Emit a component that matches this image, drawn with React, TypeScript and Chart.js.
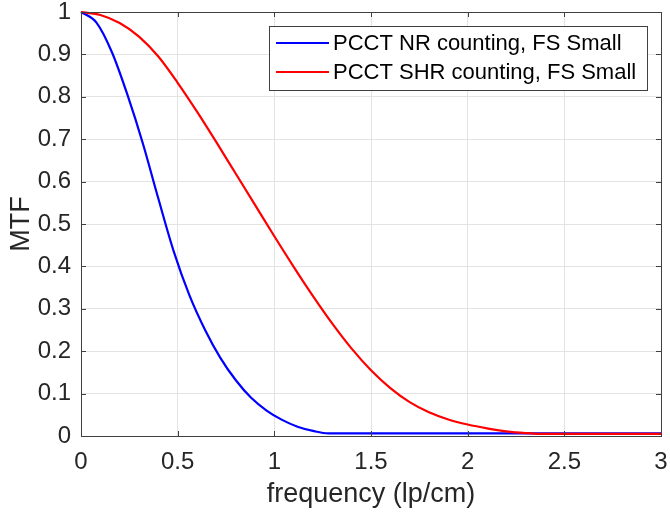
import React, { useEffect, useRef } from "react";
import { Chart, registerables } from "chart.js";

Chart.register(...registerables);

const nrFreq = [0, 0.08, 0.16, 0.24, 0.32, 0.4, 0.48, 0.56, 0.64, 0.72, 0.8, 0.88, 0.96, 1.04, 1.12, 1.2, 1.28, 3.0];
const nrMTF = [1.0, 0.975, 0.905, 0.805, 0.69, 0.56, 0.435, 0.333, 0.252, 0.185, 0.132, 0.09, 0.06, 0.038, 0.022, 0.012, 0.006, 0.006];

const shrFreq = [0, 0.1, 0.2, 0.3, 0.4, 0.5, 0.6, 0.7, 0.8, 0.9, 1.0, 1.1, 1.2, 1.3, 1.4, 1.5, 1.6, 1.7, 1.8, 1.9, 2.0, 2.1, 2.2, 2.3, 2.4, 3.0];
const shrMTF = [1.0, 0.993, 0.974, 0.942, 0.895, 0.833, 0.765, 0.693, 0.619, 0.545, 0.471, 0.399, 0.33, 0.265, 0.206, 0.155, 0.113, 0.08, 0.056, 0.039, 0.027, 0.018, 0.011, 0.007, 0.005, 0.005];

const seriesLabels = ["PCCT NR counting, FS Small", "PCCT SHR counting, FS Small"];
const seriesColors = ["#0000ff", "#ff0000"];
const xTitle = "frequency (lp/cm)";
const yTitle = "MTF";

const FONT = "'Liberation Sans', Arial, Helvetica, sans-serif";
const AXIS_COLOR = "#404040";
const TEXT_COLOR = "#262626";

const framePlugin = {
  id: "matlabFrame",
  afterDatasetsDraw(chart: any) {
    const { ctx, chartArea, scales } = chart;
    const { left, right, top, bottom } = chartArea;
    ctx.save();
    ctx.strokeStyle = AXIS_COLOR;
    ctx.lineWidth = 1;
    ctx.strokeRect(Math.round(left) + 0.5, Math.round(top) + 0.5, Math.round(right - left), Math.round(bottom - top));
    const tl = 5;
    ctx.beginPath();
    scales.x.ticks.forEach((t: any) => {
      const px = Math.round(scales.x.getPixelForValue(t.value)) + 0.5;
      ctx.moveTo(px, bottom);
      ctx.lineTo(px, bottom - tl);
      ctx.moveTo(px, top);
      ctx.lineTo(px, top + tl);
    });
    scales.y.ticks.forEach((t: any) => {
      const py = Math.round(scales.y.getPixelForValue(t.value)) + 0.5;
      ctx.moveTo(left, py);
      ctx.lineTo(left + tl, py);
      ctx.moveTo(right, py);
      ctx.lineTo(right - tl, py);
    });
    ctx.stroke();

    // legend box
    const bx = 269, by = 26, bw = 378, bh = 64;
    ctx.fillStyle = "#ffffff";
    ctx.fillRect(bx, by, bw, bh);
    ctx.strokeStyle = AXIS_COLOR;
    ctx.strokeRect(bx + 0.5, by + 0.5, bw, bh);
    ctx.font = `22px ${FONT}`;
    ctx.textBaseline = "middle";
    ctx.textAlign = "left";
    chart.data.datasets.forEach((ds: any, i: number) => {
      const y = by + 17 + i * 29;
      ctx.strokeStyle = ds.borderColor;
      ctx.lineWidth = 2.2;
      ctx.beginPath();
      ctx.moveTo(bx + 7, y);
      ctx.lineTo(bx + 60, y);
      ctx.stroke();
      ctx.fillStyle = "#000000";
      ctx.fillText(ds.label, bx + 64, y + 1);
    });
    ctx.restore();
  },
};

export default function App() {
  const ref = useRef<HTMLCanvasElement>(null);
  useEffect(() => {
    if (!ref.current) return;
    const chart = new Chart(ref.current, {
      type: "line",
      data: {
        datasets: [
          {
            label: seriesLabels[0],
            data: nrFreq.map((x, i) => ({ x, y: nrMTF[i] })),
            borderColor: seriesColors[0],
            backgroundColor: seriesColors[0],
            borderWidth: 2.2,
            pointRadius: 0,
            cubicInterpolationMode: "monotone",
            order: 1,
          },
          {
            label: seriesLabels[1],
            data: shrFreq.map((x, i) => ({ x, y: shrMTF[i] })),
            borderColor: seriesColors[1],
            backgroundColor: seriesColors[1],
            borderWidth: 2.2,
            pointRadius: 0,
            cubicInterpolationMode: "monotone",
            order: 0,
          },
        ],
      },
      options: {
        animation: false,
        responsive: false,
        clip: false as any,
        layout: { padding: { top: 12, right: 9, left: 0, bottom: 0 } },
        plugins: { legend: { display: false }, tooltip: { enabled: false } },
        scales: {
          x: {
            type: "linear",
            min: 0,
            max: 3,
            ticks: {
              stepSize: 0.5,
              padding: 12,
              color: TEXT_COLOR,
              font: { family: FONT, size: 24 },
              maxRotation: 0,
              callback: (v: any) => String(Number(Number(v).toFixed(1))),
            },
            grid: { color: "#e3e3e3", drawTicks: false },
            border: { display: false },
            title: {
              display: true,
              text: xTitle,
              color: TEXT_COLOR,
              font: { family: FONT, size: 27 },
              padding: { top: 0, bottom: 1 },
            },
            afterFit: (s: any) => {
              s.height = 76;
              s.paddingLeft = 0;
              s.paddingRight = 0;
            },
          },
          y: {
            type: "linear",
            min: 0,
            max: 1,
            ticks: {
              stepSize: 0.1,
              padding: 10,
              color: TEXT_COLOR,
              font: { family: FONT, size: 24 },
              callback: (v: any) => String(Number(Number(v).toFixed(1))),
            },
            grid: { color: "#e3e3e3", drawTicks: false },
            border: { display: false },
            title: {
              display: true,
              text: yTitle,
              color: TEXT_COLOR,
              font: { family: FONT, size: 27 },
              padding: { top: 5, bottom: 0 },
            },
            afterFit: (s: any) => {
              s.width = 81;
              s.paddingTop = 0;
              s.paddingBottom = 0;
            },
          },
        },
      },
      plugins: [framePlugin],
    });
    return () => chart.destroy();
  }, []);
  return (
    <div style={{ position: "absolute", left: 0, top: 0, width: 670, height: 512, background: "#fff" }}>
      <canvas ref={ref} width={670} height={512} style={{ display: "block", width: 670, height: 512 }} />
    </div>
  );
}
